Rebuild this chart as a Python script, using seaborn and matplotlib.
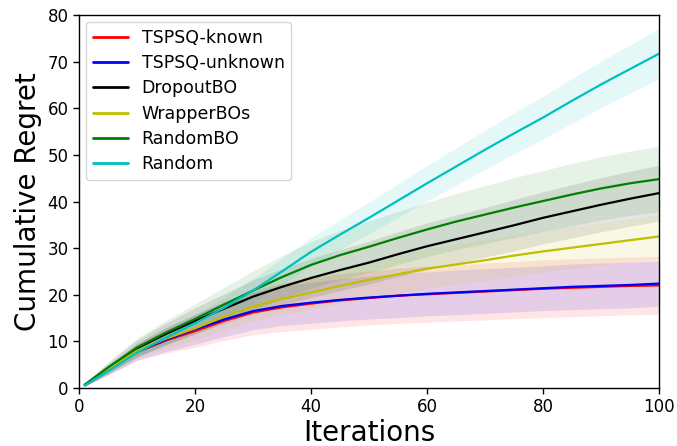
import numpy as np
import pandas as pd
import matplotlib
matplotlib.use("Agg")
import matplotlib.pyplot as plt
import seaborn as sns

iterations = [1, 5, 10, 15, 20, 25, 30, 35, 40, 45, 50, 55, 60, 65, 70, 75, 80, 85, 90, 95, 100]

methods = ["TSPSQ-known", "TSPSQ-unknown", "DropoutBO", "WrapperBOs", "RandomBO", "Random"]
colors = ["r", "b", "k", "y", "g", "c"]

tspsq_known = [0.6, 3.8, 7.7, 10.2, 12.2, 14.4, 16.2, 17.3, 18.1, 18.8, 19.3, 19.8, 20.1, 20.4, 20.7, 21.0, 21.3, 21.5, 21.7, 21.9, 22.0]
tspsq_unknown = [0.6, 3.8, 7.8, 10.4, 12.6, 14.7, 16.5, 17.6, 18.3, 18.9, 19.4, 19.8, 20.2, 20.5, 20.8, 21.1, 21.4, 21.7, 21.9, 22.1, 22.4]
dropout_bo = [0.7, 4.3, 8.5, 11.6, 14.4, 17.0, 19.6, 21.7, 23.6, 25.3, 26.9, 28.7, 30.4, 31.9, 33.4, 34.9, 36.5, 37.9, 39.3, 40.6, 41.8]
wrapper_bos = [0.6, 4.0, 8.0, 10.6, 12.8, 15.3, 17.5, 19.1, 20.5, 21.9, 23.2, 24.4, 25.6, 26.5, 27.4, 28.4, 29.3, 30.1, 30.9, 31.7, 32.5]
random_bo = [0.7, 4.4, 8.7, 11.9, 14.8, 17.9, 20.9, 23.8, 26.4, 28.5, 30.3, 32.2, 34.0, 35.7, 37.2, 38.7, 40.1, 41.5, 42.8, 43.9, 44.8]
random = [0.6, 3.6, 7.6, 10.8, 13.9, 17.2, 20.9, 25.0, 29.2, 32.9, 36.5, 40.2, 43.9, 47.5, 51.1, 54.6, 58.0, 61.6, 65.1, 68.4, 71.7]

std_known = [0.2, 1.0, 1.8, 2.7, 3.5, 4.2, 4.8, 5.2, 5.5, 5.7, 5.8, 5.9, 6.0, 6.0, 6.1, 6.1, 6.2, 6.2, 6.2, 6.2, 6.2]
std_unknown = [0.2, 1.0, 1.8, 2.6, 3.2, 3.7, 4.0, 4.2, 4.4, 4.5, 4.6, 4.7, 4.7, 4.8, 4.8, 4.8, 4.8, 4.9, 4.9, 4.9, 4.9]
std_dropout = [0.3, 1.1, 1.8, 2.3, 2.8, 3.2, 3.6, 3.9, 4.2, 4.4, 4.6, 4.8, 5.0, 5.2, 5.3, 5.5, 5.6, 5.7, 5.8, 5.9, 6.0]
std_wrapper = [0.2, 0.9, 1.5, 2.0, 2.5, 2.9, 3.2, 3.4, 3.6, 3.8, 4.0, 4.1, 4.2, 4.3, 4.4, 4.4, 4.5, 4.5, 4.6, 4.6, 4.7]
std_randombo = [0.3, 1.2, 2.0, 2.6, 3.2, 3.7, 4.2, 4.6, 5.0, 5.3, 5.5, 5.7, 5.8, 6.0, 6.2, 6.4, 6.5, 6.7, 6.8, 6.9, 7.0]
std_random = [0.2, 0.6, 1.0, 1.4, 1.8, 2.2, 2.6, 2.8, 3.0, 3.2, 3.4, 3.6, 3.8, 4.0, 4.2, 4.4, 4.6, 4.8, 5.0, 5.2, 5.4]

means = [tspsq_known, tspsq_unknown, dropout_bo, wrapper_bos, random_bo, random]
stds = [std_known, std_unknown, std_dropout, std_wrapper, std_randombo, std_random]

rows = []
for m, vals in zip(methods, means):
    for it, v in zip(iterations, vals):
        rows.append({"Iterations": it, "Cumulative Regret": v, "Method": m})
df = pd.DataFrame(rows)

sns.set_style("ticks")
plt.rcParams["font.family"] = ["DejaVu Sans"]
plt.rcParams["text.color"] = "black"
plt.rcParams["axes.labelcolor"] = "black"
plt.rcParams["xtick.color"] = "black"
plt.rcParams["ytick.color"] = "black"

fig = plt.figure(figsize=(6.77, 4.46), dpi=100)
ax = fig.add_axes([0.1167, 0.130, 0.8567, 0.8364])

for m, c, vals, sd in zip(methods, colors, means, stds):
    lo = np.array(vals) - np.array(sd)
    hi = np.array(vals) + np.array(sd)
    ax.fill_between(iterations, lo, hi, color=c, alpha=0.1, linewidth=0)

sns.lineplot(data=df, x="Iterations", y="Cumulative Regret", hue="Method",
             hue_order=methods, palette=dict(zip(methods, colors)),
             linewidth=1.6, ax=ax, legend=True)

ax.set_xlim(0, 100)
ax.set_ylim(0, 80)
ax.set_xticks([0, 20, 40, 60, 80, 100])
ax.set_yticks([0, 10, 20, 30, 40, 50, 60, 70, 80])
ax.tick_params(labelsize=12, direction="out", length=4, width=1, colors="black")
ax.set_xlabel("Iterations", fontsize=20, labelpad=2, color="black")
ax.set_ylabel("Cumulative Regret", fontsize=20, color="black")
for s in ax.spines.values():
    s.set_visible(True)
    s.set_color("black")
    s.set_linewidth(1.0)

leg = ax.legend(loc="upper left", fontsize=12.5, frameon=True, handlelength=2.0,
                borderpad=0.4, labelspacing=0.42, borderaxespad=0.4)
leg.get_frame().set_edgecolor("#cccccc")
for t in leg.get_texts():
    t.set_color("black")
for line in leg.get_lines():
    line.set_linewidth(2.0)

fig.savefig("out.png", dpi=100)
